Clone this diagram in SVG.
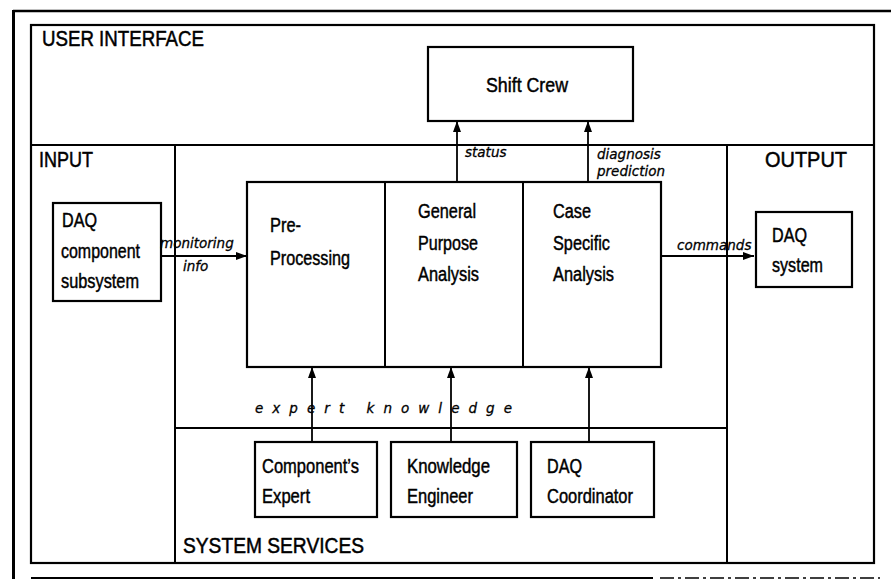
<svg xmlns="http://www.w3.org/2000/svg" width="891" height="579" viewBox="0 0 891 579">
<style>
.frame{fill:none;stroke:#000;stroke-width:2.2}
.line{fill:none;stroke:#000;stroke-width:2}
.box{fill:#fff;stroke:#000;stroke-width:2.2}
.t{font-family:"Liberation Sans",Arial,sans-serif;font-size:20px;fill:#000;stroke:#000;stroke-width:0.45}
.h{font-family:"Liberation Sans",Arial,sans-serif;font-size:22px;fill:#000;stroke:#000;stroke-width:0.5}
.it{font-family:"DejaVu Sans",sans-serif;font-style:italic;font-size:13.5px;fill:#000;stroke:#000;stroke-width:0.3}
.conn{fill:none;stroke:#000;stroke-width:1.8;marker-end:url(#ah)}
</style>
<defs>
<marker id="ah" markerUnits="userSpaceOnUse" markerWidth="11" markerHeight="8" refX="11" refY="4" orient="auto">
<path d="M0,0 L11,4 L0,8 z" fill="#000"/>
</marker>
</defs>
<rect width="891" height="579" fill="#fff"/>
<g id="page-frame">
<line x1="13" y1="11" x2="891" y2="11" stroke="#000" stroke-width="2.5"/>
<line x1="13.5" y1="10" x2="13.5" y2="579" stroke="#000" stroke-width="3"/>
<line x1="31" y1="578" x2="653" y2="578" stroke="#000" stroke-width="1.8"/>
<line x1="660" y1="578" x2="880" y2="578" stroke="#000" stroke-width="1.5" stroke-dasharray="14 4 3 4"/>
</g>
<g id="regions">
<rect class="frame" x="31" y="25" width="843" height="538"/>
<line class="line" x1="31" y1="145" x2="874" y2="145"/>
<line class="line" x1="175" y1="145" x2="175" y2="563"/>
<line class="line" x1="727" y1="145" x2="727" y2="563"/>
<line class="line" x1="175" y1="428" x2="727" y2="428"/>
<text class="h" x="42" y="46" textLength="162" lengthAdjust="spacingAndGlyphs">USER INTERFACE</text>
<text class="h" x="39" y="167" textLength="54" lengthAdjust="spacingAndGlyphs">INPUT</text>
<text class="h" x="765" y="167" textLength="82" lengthAdjust="spacingAndGlyphs">OUTPUT</text>
<text class="h" x="183" y="553" textLength="181" lengthAdjust="spacingAndGlyphs">SYSTEM SERVICES</text>
</g>
<g id="shift-crew">
<rect class="box" x="428" y="47" width="205" height="74"/>
<text class="t" x="527" y="92" text-anchor="middle" textLength="82" lengthAdjust="spacingAndGlyphs">Shift Crew</text>
</g>
<g id="daq-component">
<rect class="box" x="53" y="203" width="108" height="98"/>
<text class="t" x="62" y="227" textLength="35" lengthAdjust="spacingAndGlyphs">DAQ</text>
<text class="t" x="61" y="258" textLength="79" lengthAdjust="spacingAndGlyphs">component</text>
<text class="t" x="61" y="288" textLength="78" lengthAdjust="spacingAndGlyphs">subsystem</text>
</g>
<g id="analysis">
<rect class="box" x="247" y="182" width="414" height="185"/>
<line class="line" x1="385" y1="182" x2="385" y2="367"/>
<line class="line" x1="523" y1="182" x2="523" y2="367"/>
</g>
<g id="pre-processing">
<text class="t" x="270" y="232" textLength="31" lengthAdjust="spacingAndGlyphs">Pre-</text>
<text class="t" x="270" y="265" textLength="80" lengthAdjust="spacingAndGlyphs">Processing</text>
</g>
<g id="general-purpose">
<text class="t" x="418" y="218" textLength="58" lengthAdjust="spacingAndGlyphs">General</text>
<text class="t" x="418" y="250" textLength="60" lengthAdjust="spacingAndGlyphs">Purpose</text>
<text class="t" x="418" y="281" textLength="61" lengthAdjust="spacingAndGlyphs">Analysis</text>
</g>
<g id="case-specific">
<text class="t" x="553" y="218" textLength="38" lengthAdjust="spacingAndGlyphs">Case</text>
<text class="t" x="553" y="250" textLength="57" lengthAdjust="spacingAndGlyphs">Specific</text>
<text class="t" x="553" y="281" textLength="61" lengthAdjust="spacingAndGlyphs">Analysis</text>
</g>
<g id="daq-system">
<rect class="box" x="756" y="212" width="96" height="75"/>
<text class="t" x="772" y="242" textLength="35" lengthAdjust="spacingAndGlyphs">DAQ</text>
<text class="t" x="772" y="272" textLength="51" lengthAdjust="spacingAndGlyphs">system</text>
</g>
<g id="components-expert">
<rect class="box" x="255" y="442" width="122" height="75"/>
<text class="t" x="262" y="473" textLength="97" lengthAdjust="spacingAndGlyphs">Component’s</text>
<text class="t" x="262" y="503" textLength="48" lengthAdjust="spacingAndGlyphs">Expert</text>
</g>
<g id="knowledge-engineer">
<rect class="box" x="391" y="442" width="126" height="75"/>
<text class="t" x="407" y="473" textLength="83" lengthAdjust="spacingAndGlyphs">Knowledge</text>
<text class="t" x="407" y="503" textLength="66" lengthAdjust="spacingAndGlyphs">Engineer</text>
</g>
<g id="daq-coordinator">
<rect class="box" x="531" y="442" width="123" height="75"/>
<text class="t" x="547" y="473" textLength="35" lengthAdjust="spacingAndGlyphs">DAQ</text>
<text class="t" x="547" y="503" textLength="86" lengthAdjust="spacingAndGlyphs">Coordinator</text>
</g>
<g id="connectors">
<line class="conn" x1="457" y1="182" x2="457" y2="121"/>
<line class="conn" x1="588" y1="182" x2="588" y2="121"/>
<line class="conn" x1="161" y1="256" x2="247" y2="256"/>
<line class="conn" x1="661" y1="256" x2="754" y2="256"/>
<line class="conn" x1="312" y1="442" x2="312" y2="367"/>
<line class="conn" x1="451" y1="442" x2="451" y2="367"/>
<line class="conn" x1="589" y1="442" x2="589" y2="367"/>
<text class="it" x="465" y="157">status</text>
<text class="it" x="597" y="159">diagnosis</text>
<text class="it" x="597" y="176">prediction</text>
<text class="it" x="160" y="248">monitoring</text>
<text class="it" x="183" y="271">info</text>
<text class="it" x="677" y="250">commands</text>
<text class="it" x="255" y="413" font-size="13" textLength="257" lengthAdjust="spacing">expert knowledge</text>
</g>
</svg>
